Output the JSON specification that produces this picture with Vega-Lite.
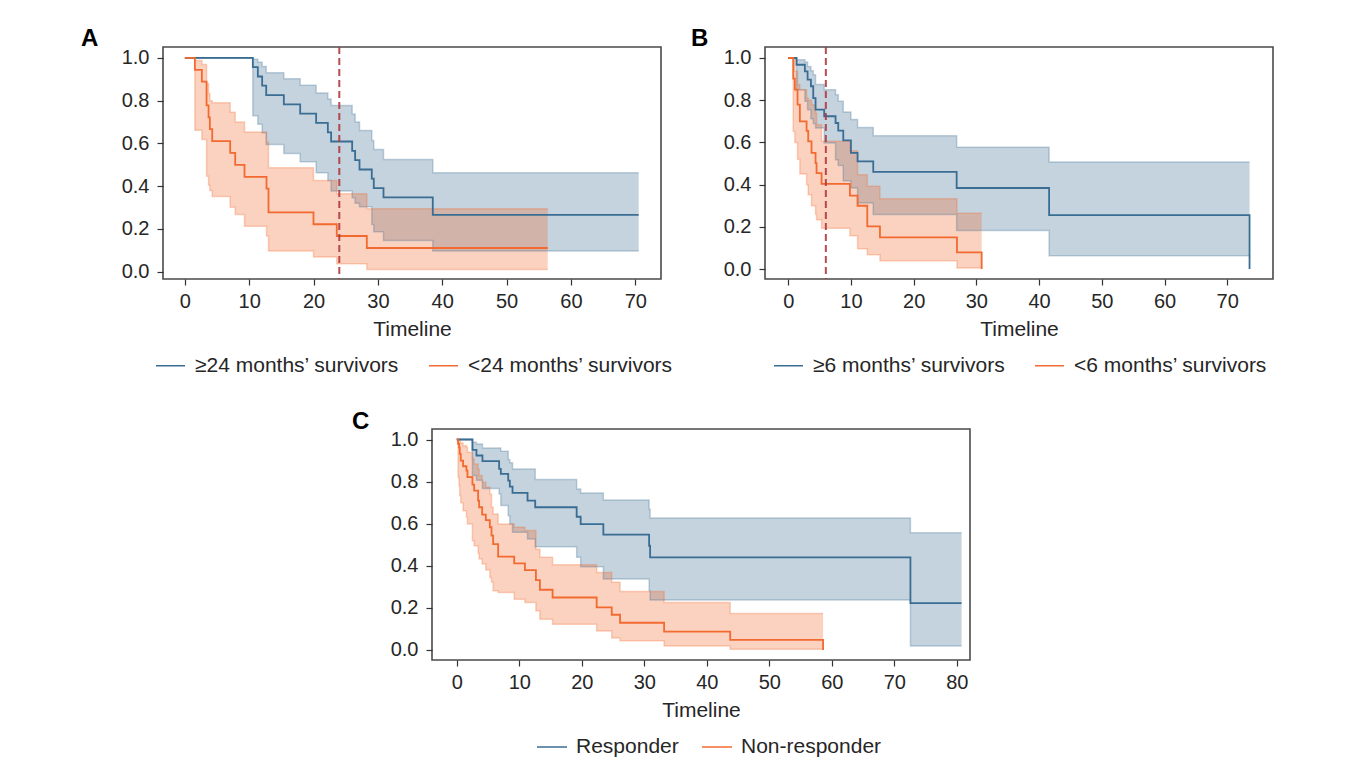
{
"$schema":"https://vega.github.io/schema/vega-lite/v6.json",
"background":"white",
"padding":{"left":80,"top":26,"right":0,"bottom":0},
"config":{
 "font":"Liberation Sans",
 "view":{"stroke":"#4a4a4a","strokeWidth":1.6},
 "axis":{"labelFontSize":20,"titleFontSize":21,"titleFontWeight":"normal","labelColor":"#262626","titleColor":"#262626","tickColor":"#333333","tickSize":6,"tickWidth":1.2,"domain":false,"grid":false},
 "axisX":{"labelPadding":6,"titlePadding":7},
 "axisY":{"labelPadding":8},
 "legend":{"labelLimit":0},
 "title":{"fontSize":24,"fontWeight":"bold","anchor":"start","frame":"group","color":"black","baseline":"alphabetic","offset":-5}
},
"spacing":32,
"resolve":{"scale":{"color":"independent"},"legend":{"color":"independent"}},
"vconcat":[
{"spacing":16,"resolve":{"scale":{"color":"independent"},"legend":{"color":"independent"}},"hconcat":[
 {"width":498,"height":232,"title":{"text":"A","dx":-82},
  "data":{"values":[
   {"g":"≥24 months’ survivors","t":0,"s":1,"lo":1,"hi":1},
   {"g":"≥24 months’ survivors","t":10.56,"s":0.957,"lo":0.73,"hi":0.994},
   {"g":"≥24 months’ survivors","t":11.34,"s":0.913,"lo":0.69,"hi":0.98},
   {"g":"≥24 months’ survivors","t":12.01,"s":0.870,"lo":0.65,"hi":0.96},
   {"g":"≥24 months’ survivors","t":12.64,"s":0.826,"lo":0.595,"hi":0.93},
   {"g":"≥24 months’ survivors","t":15.38,"s":0.783,"lo":0.553,"hi":0.902},
   {"g":"≥24 months’ survivors","t":17.92,"s":0.739,"lo":0.514,"hi":0.872},
   {"g":"≥24 months’ survivors","t":20.40,"s":0.696,"lo":0.463,"hi":0.836},
   {"g":"≥24 months’ survivors","t":22.22,"s":0.652,"lo":0.427,"hi":0.808},
   {"g":"≥24 months’ survivors","t":22.73,"s":0.609,"lo":0.377,"hi":0.777},
   {"g":"≥24 months’ survivors","t":26.0,"s":0.565,"lo":0.346,"hi":0.738},
   {"g":"≥24 months’ survivors","t":26.46,"s":0.522,"lo":0.32,"hi":0.70},
   {"g":"≥24 months’ survivors","t":27.14,"s":0.478,"lo":0.304,"hi":0.66},
   {"g":"≥24 months’ survivors","t":29.05,"s":0.435,"lo":0.221,"hi":0.614},
   {"g":"≥24 months’ survivors","t":29.36,"s":0.391,"lo":0.187,"hi":0.572},
   {"g":"≥24 months’ survivors","t":30.87,"s":0.348,"lo":0.146,"hi":0.525},
   {"g":"≥24 months’ survivors","t":38.53,"s":0.266,"lo":0.097,"hi":0.463},
   {"g":"≥24 months’ survivors","t":70.53,"s":0.266,"lo":0.097,"hi":0.463},
   {"g":"<24 months’ survivors","t":0,"s":1,"lo":1,"hi":1},
   {"g":"<24 months’ survivors","t":1.55,"s":0.944,"lo":0.662,"hi":0.988},
   {"g":"<24 months’ survivors","t":2.64,"s":0.889,"lo":0.618,"hi":0.969},
   {"g":"<24 months’ survivors","t":3.37,"s":0.778,"lo":0.447,"hi":0.88},
   {"g":"<24 months’ survivors","t":3.68,"s":0.722,"lo":0.405,"hi":0.833},
   {"g":"<24 months’ survivors","t":3.88,"s":0.667,"lo":0.38,"hi":0.80},
   {"g":"<24 months’ survivors","t":4.25,"s":0.611,"lo":0.352,"hi":0.79},
   {"g":"<24 months’ survivors","t":7.04,"s":0.556,"lo":0.302,"hi":0.746},
   {"g":"<24 months’ survivors","t":7.82,"s":0.5,"lo":0.268,"hi":0.70},
   {"g":"<24 months’ survivors","t":9.27,"s":0.444,"lo":0.213,"hi":0.653},
   {"g":"<24 months’ survivors","t":12.69,"s":0.389,"lo":0.167,"hi":0.606},
   {"g":"<24 months’ survivors","t":13.0,"s":0.278,"lo":0.097,"hi":0.486},
   {"g":"<24 months’ survivors","t":19.99,"s":0.222,"lo":0.069,"hi":0.427},
   {"g":"<24 months’ survivors","t":23.61,"s":0.167,"lo":0.037,"hi":0.365},
   {"g":"<24 months’ survivors","t":28.28,"s":0.111,"lo":0.011,"hi":0.294},
   {"g":"<24 months’ survivors","t":56.4,"s":0.111,"lo":0.011,"hi":0.294}
  ]},
  "encoding":{
   "x":{"field":"t","type":"quantitative","scale":{"domain":[-3.4,74],"nice":false,"zero":false},"axis":{"values":[0,10,20,30,40,50,60,70],"title":"Timeline"}},
   "color":{"field":"g","type":"nominal","scale":{"domain":["≥24 months’ survivors","<24 months’ survivors"],"range":["#3a6d93","#f26a30"]},
     "legend":{"orient":"none","legendX":-8,"legendY":303,"direction":"horizontal","symbolType":"stroke","symbolSize":840,"symbolStrokeWidth":1.5,"symbolOpacity":1,"labelFontSize":21,"labelColor":"#262626","labelOffset":9,"columnPadding":26,"labelLimit":0,"title":null}}
  },
  "layer":[
   {"mark":{"type":"area","interpolate":"step-after","fillOpacity":0.3,"opacity":1},
    "encoding":{
     "y":{"field":"lo","type":"quantitative","scale":{"domain":[-0.034,1.051],"nice":false,"zero":false},"axis":{"values":[0,0.2,0.4,0.6,0.8,1],"format":".1f","title":null}},
     "y2":{"field":"hi"}}},
   {"mark":{"type":"line","interpolate":"step-after","strokeWidth":1.5,"strokeOpacity":0.3},"encoding":{"y":{"field":"lo","type":"quantitative"}}},
   {"mark":{"type":"line","interpolate":"step-after","strokeWidth":1.5,"strokeOpacity":0.3},"encoding":{"y":{"field":"hi","type":"quantitative"}}},
   {"mark":{"type":"line","interpolate":"step-after","strokeWidth":1.8},"encoding":{"y":{"field":"s","type":"quantitative"}}},
   {"data":{"values":[{"v":24}]},"mark":{"type":"rule","color":"#b0383c","strokeDash":[7,4],"strokeWidth":2,"opacity":0.9},
    "encoding":{"x":{"field":"v","type":"quantitative"},"color":null}}
  ]},
 {"width":508,"height":232,"title":{"text":"B","dx":-74},
  "data":{"values":[
   {"g":"≥6 months’ survivors","t":0,"s":1,"lo":1,"hi":1},
   {"g":"≥6 months’ survivors","t":1.33,"s":0.968,"lo":0.85,"hi":0.992},
   {"g":"≥6 months’ survivors","t":2.66,"s":0.937,"lo":0.795,"hi":0.981},
   {"g":"≥6 months’ survivors","t":3.09,"s":0.897,"lo":0.755,"hi":0.96},
   {"g":"≥6 months’ survivors","t":3.62,"s":0.866,"lo":0.712,"hi":0.94},
   {"g":"≥6 months’ survivors","t":3.99,"s":0.81,"lo":0.69,"hi":0.92},
   {"g":"≥6 months’ survivors","t":4.36,"s":0.755,"lo":0.668,"hi":0.874},
   {"g":"≥6 months’ survivors","t":5.74,"s":0.724,"lo":0.597,"hi":0.85},
   {"g":"≥6 months’ survivors","t":7.55,"s":0.692,"lo":0.518,"hi":0.826},
   {"g":"≥6 months’ survivors","t":7.98,"s":0.656,"lo":0.491,"hi":0.795},
   {"g":"≥6 months’ survivors","t":8.78,"s":0.61,"lo":0.419,"hi":0.744},
   {"g":"≥6 months’ survivors","t":10.0,"s":0.55,"lo":0.384,"hi":0.708},
   {"g":"≥6 months’ survivors","t":11.06,"s":0.51,"lo":0.313,"hi":0.671},
   {"g":"≥6 months’ survivors","t":13.56,"s":0.46,"lo":0.258,"hi":0.632},
   {"g":"≥6 months’ survivors","t":26.86,"s":0.384,"lo":0.183,"hi":0.577},
   {"g":"≥6 months’ survivors","t":41.6,"s":0.256,"lo":0.063,"hi":0.507},
   {"g":"≥6 months’ survivors","t":73.56,"s":0,"lo":0.063,"hi":0.507},
   {"g":"<6 months’ survivors","t":0,"s":1,"lo":1,"hi":1},
   {"g":"<6 months’ survivors","t":0.80,"s":0.902,"lo":0.652,"hi":0.992},
   {"g":"<6 months’ survivors","t":1.06,"s":0.85,"lo":0.60,"hi":0.937},
   {"g":"<6 months’ survivors","t":1.49,"s":0.779,"lo":0.52,"hi":0.874},
   {"g":"<6 months’ survivors","t":1.86,"s":0.70,"lo":0.45,"hi":0.85},
   {"g":"<6 months’ survivors","t":2.93,"s":0.655,"lo":0.40,"hi":0.81},
   {"g":"<6 months’ survivors","t":3.19,"s":0.605,"lo":0.352,"hi":0.80},
   {"g":"<6 months’ survivors","t":3.72,"s":0.55,"lo":0.30,"hi":0.779},
   {"g":"<6 months’ survivors","t":4.36,"s":0.502,"lo":0.26,"hi":0.739},
   {"g":"<6 months’ survivors","t":4.52,"s":0.455,"lo":0.234,"hi":0.684},
   {"g":"<6 months’ survivors","t":5.32,"s":0.404,"lo":0.194,"hi":0.605},
   {"g":"<6 months’ survivors","t":9.84,"s":0.348,"lo":0.158,"hi":0.56},
   {"g":"<6 months’ survivors","t":11.06,"s":0.30,"lo":0.096,"hi":0.447},
   {"g":"<6 months’ survivors","t":12.61,"s":0.202,"lo":0.068,"hi":0.392},
   {"g":"<6 months’ survivors","t":14.63,"s":0.15,"lo":0.039,"hi":0.333},
   {"g":"<6 months’ survivors","t":26.91,"s":0.079,"lo":0.005,"hi":0.265},
   {"g":"<6 months’ survivors","t":30.85,"s":0,"lo":0.005,"hi":0.265}
  ]},
  "encoding":{
   "x":{"field":"t","type":"quantitative","scale":{"domain":[-3.7,77.3],"nice":false,"zero":false},"axis":{"values":[0,10,20,30,40,50,60,70],"title":"Timeline"}},
   "color":{"field":"g","type":"nominal","scale":{"domain":["≥6 months’ survivors","<6 months’ survivors"],"range":["#3a6d93","#f26a30"]},
     "legend":{"orient":"none","legendX":8,"legendY":303,"direction":"horizontal","symbolType":"stroke","symbolSize":840,"symbolStrokeWidth":1.5,"symbolOpacity":1,"labelFontSize":21,"labelColor":"#262626","labelOffset":9,"columnPadding":26,"labelLimit":0,"title":null}}
  },
  "layer":[
   {"mark":{"type":"area","interpolate":"step-after","fillOpacity":0.3,"opacity":1},
    "encoding":{
     "y":{"field":"lo","type":"quantitative","scale":{"domain":[-0.047,1.052],"nice":false,"zero":false},"axis":{"values":[0,0.2,0.4,0.6,0.8,1],"format":".1f","title":null}},
     "y2":{"field":"hi"}}},
   {"mark":{"type":"line","interpolate":"step-after","strokeWidth":1.5,"strokeOpacity":0.3},"encoding":{"y":{"field":"lo","type":"quantitative"}}},
   {"mark":{"type":"line","interpolate":"step-after","strokeWidth":1.5,"strokeOpacity":0.3},"encoding":{"y":{"field":"hi","type":"quantitative"}}},
   {"mark":{"type":"line","interpolate":"step-after","strokeWidth":1.8},"encoding":{"y":{"field":"s","type":"quantitative"}}},
   {"data":{"values":[{"v":6}]},"mark":{"type":"rule","color":"#b0383c","strokeDash":[7,4],"strokeWidth":2,"opacity":0.9},
    "encoding":{"x":{"field":"v","type":"quantitative"},"color":null}}
  ]}
]},
{"spacing":0,"resolve":{"scale":{"color":"independent"},"legend":{"color":"independent"}},"hconcat":[
 {"width":187,"height":10,"data":{"values":[]},"mark":{"type":"point","opacity":0},"view":{"stroke":"transparent"}},
 {"width":538,"height":231,"title":{"text":"C","dx":-80},
  "data":{"values":[
   {"g":"Responder","t":0,"s":1,"lo":1,"hi":1},
   {"g":"Responder","t":2.51,"s":0.951,"lo":0.829,"hi":0.987},
   {"g":"Responder","t":3.15,"s":0.924,"lo":0.806,"hi":0.979},
   {"g":"Responder","t":4.11,"s":0.897,"lo":0.767,"hi":0.96},
   {"g":"Responder","t":6.78,"s":0.86,"lo":0.741,"hi":0.96},
   {"g":"Responder","t":7.05,"s":0.837,"lo":0.686,"hi":0.944},
   {"g":"Responder","t":8.23,"s":0.805,"lo":0.638,"hi":0.905},
   {"g":"Responder","t":8.49,"s":0.776,"lo":0.598,"hi":0.889},
   {"g":"Responder","t":8.92,"s":0.746,"lo":0.559,"hi":0.86},
   {"g":"Responder","t":11.32,"s":0.71,"lo":0.527,"hi":0.86},
   {"g":"Responder","t":12.55,"s":0.678,"lo":0.49,"hi":0.81},
   {"g":"Responder","t":19.18,"s":0.633,"lo":0.44,"hi":0.765},
   {"g":"Responder","t":19.82,"s":0.598,"lo":0.395,"hi":0.746},
   {"g":"Responder","t":23.45,"s":0.548,"lo":0.337,"hi":0.713},
   {"g":"Responder","t":30.77,"s":0.495,"lo":0.281,"hi":0.67},
   {"g":"Responder","t":30.93,"s":0.44,"lo":0.237,"hi":0.627},
   {"g":"Responder","t":72.57,"s":0.222,"lo":0.019,"hi":0.557},
   {"g":"Responder","t":80.75,"s":0.222,"lo":0.019,"hi":0.557},
   {"g":"Non-responder","t":0,"s":1,"lo":1,"hi":1},
   {"g":"Non-responder","t":0.21,"s":0.979,"lo":0.82,"hi":0.997},
   {"g":"Non-responder","t":0.37,"s":0.963,"lo":0.78,"hi":0.996},
   {"g":"Non-responder","t":0.48,"s":0.932,"lo":0.733,"hi":0.99},
   {"g":"Non-responder","t":0.64,"s":0.90,"lo":0.70,"hi":0.983},
   {"g":"Non-responder","t":1.01,"s":0.873,"lo":0.662,"hi":0.97},
   {"g":"Non-responder","t":1.55,"s":0.852,"lo":0.63,"hi":0.963},
   {"g":"Non-responder","t":1.71,"s":0.821,"lo":0.598,"hi":0.94},
   {"g":"Non-responder","t":2.51,"s":0.786,"lo":0.519,"hi":0.908},
   {"g":"Non-responder","t":2.78,"s":0.757,"lo":0.495,"hi":0.884},
   {"g":"Non-responder","t":3.42,"s":0.71,"lo":0.459,"hi":0.86},
   {"g":"Non-responder","t":3.58,"s":0.678,"lo":0.432,"hi":0.829},
   {"g":"Non-responder","t":4.06,"s":0.643,"lo":0.408,"hi":0.797},
   {"g":"Non-responder","t":4.65,"s":0.617,"lo":0.38,"hi":0.773},
   {"g":"Non-responder","t":5.29,"s":0.583,"lo":0.344,"hi":0.741},
   {"g":"Non-responder","t":5.56,"s":0.543,"lo":0.321,"hi":0.678},
   {"g":"Non-responder","t":5.82,"s":0.503,"lo":0.281,"hi":0.646},
   {"g":"Non-responder","t":6.62,"s":0.443,"lo":0.273,"hi":0.598},
   {"g":"Non-responder","t":9.19,"s":0.411,"lo":0.241,"hi":0.583},
   {"g":"Non-responder","t":10.9,"s":0.379,"lo":0.225,"hi":0.567},
   {"g":"Non-responder","t":12.66,"s":0.332,"lo":0.186,"hi":0.479},
   {"g":"Non-responder","t":13.3,"s":0.286,"lo":0.146,"hi":0.44},
   {"g":"Non-responder","t":15.33,"s":0.249,"lo":0.122,"hi":0.405},
   {"g":"Non-responder","t":22.38,"s":0.202,"lo":0.09,"hi":0.368},
   {"g":"Non-responder","t":24.79,"s":0.167,"lo":0.056,"hi":0.321},
   {"g":"Non-responder","t":26.12,"s":0.129,"lo":0.043,"hi":0.278},
   {"g":"Non-responder","t":33.17,"s":0.087,"lo":0.019,"hi":0.225},
   {"g":"Non-responder","t":43.74,"s":0.048,"lo":0.003,"hi":0.173},
   {"g":"Non-responder","t":58.6,"s":0,"lo":0.003,"hi":0.173}
  ]},
  "encoding":{
   "x":{"field":"t","type":"quantitative","scale":{"domain":[-3.96,82.1],"nice":false,"zero":false},"axis":{"values":[0,10,20,30,40,50,60,70,80],"title":"Timeline"}},
   "color":{"field":"g","type":"nominal","scale":{"domain":["Responder","Non-responder"],"range":["#3a6d93","#f26a30"]},
     "legend":{"orient":"none","legendX":104,"legendY":302,"direction":"horizontal","symbolType":"stroke","symbolSize":900,"symbolStrokeWidth":1.5,"symbolOpacity":1,"labelFontSize":21,"labelColor":"#262626","labelOffset":8,"columnPadding":20,"labelLimit":0,"title":null}}
  },
  "layer":[
   {"mark":{"type":"area","interpolate":"step-after","fillOpacity":0.3,"opacity":1},
    "encoding":{
     "y":{"field":"lo","type":"quantitative","scale":{"domain":[-0.048,1.05],"nice":false,"zero":false},"axis":{"values":[0,0.2,0.4,0.6,0.8,1],"format":".1f","title":null}},
     "y2":{"field":"hi"}}},
   {"mark":{"type":"line","interpolate":"step-after","strokeWidth":1.5,"strokeOpacity":0.3},"encoding":{"y":{"field":"lo","type":"quantitative"}}},
   {"mark":{"type":"line","interpolate":"step-after","strokeWidth":1.5,"strokeOpacity":0.3},"encoding":{"y":{"field":"hi","type":"quantitative"}}},
   {"mark":{"type":"line","interpolate":"step-after","strokeWidth":1.8},"encoding":{"y":{"field":"s","type":"quantitative"}}}
  ]}
]}
]
}
